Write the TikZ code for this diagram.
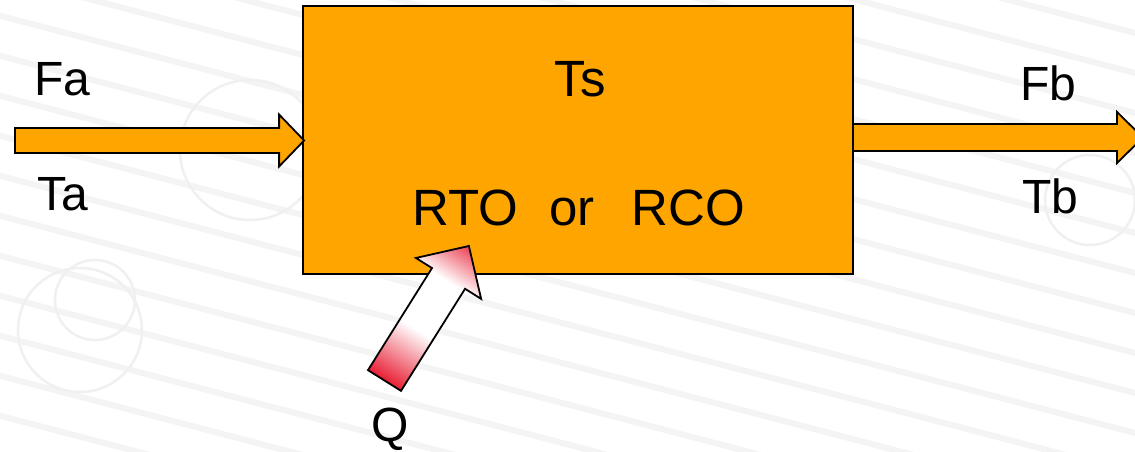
\documentclass[tikz,border=0pt]{standalone}
\usepackage{fontspec}
\setmainfont{Liberation Sans}
\usetikzlibrary{calc}
\definecolor{boxorange}{RGB}{255,165,0}
\definecolor{qred}{RGB}{232,30,52}
\definecolor{stripe}{RGB}{244,244,244}
\definecolor{swirl}{RGB}{240,240,240}
\pgfdeclarehorizontalshading{qshade}{100bp}{color(0bp)=(qred); color(25bp)=(qred); color(44bp)=(white); color(62bp)=(white); color(75bp)=(qred!85!white); color(100bp)=(qred!85!white)}
\begin{document}
\begin{tikzpicture}[x=1pt,y=-1pt,
  lbl/.style={font=\fontsize{48}{56}\selectfont, inner sep=0pt, text=black},
  biglbl/.style={font=\fontsize{51}{60}\selectfont, inner sep=0pt, text=black},
  flowarrow/.style={fill=boxorange, draw=black, line width=1.8pt, line join=miter},
  procbox/.style={fill=boxorange, draw=black, line width=1.8pt, minimum width=550pt, minimum height=268pt, inner sep=0pt},
  bgstripe/.style={draw=stripe, line width=6pt},
  bgswirl/.style={draw=swirl, line width=2.5pt}]
\useasboundingbox (0,0) rectangle (1135,451);
\fill[white] (0,0) rectangle (1135,451);
% faint background texture
\foreach \i in {-14,...,14} \draw[bgstripe] (-60,\i*40) -- (1200,\i*40+330);
\draw[bgswirl] (80,330) circle (62);
\draw[bgswirl] (95,300) circle (40);
\draw[bgswirl] (250,150) circle (70);
\draw[bgswirl] (1090,200) circle (45);
% process box
\node[procbox] (box) at (578,140) {};
\node[biglbl, anchor=base] (ts) at (580,96) {Ts};
\node[biglbl, anchor=base] (rto) at (579,225) {RTO\hspace{31pt}or\hspace{37pt}RCO};
% inlet arrow
\coordinate (ltail) at (15,140.5);
\coordinate (ltip) at ($(box.west)+(2,0.5)$);
\draw[flowarrow] ($(ltail)+(0,-12.5)$) -- ($(ltip)+(-25,-12.5)$) -- ($(ltip)+(-25,-26)$) -- (ltip)
  -- ($(ltip)+(-25,26)$) -- ($(ltip)+(-25,12.5)$) -- ($(ltail)+(0,12.5)$) -- cycle;
% outlet arrow
\coordinate (rtail) at ($(box.east)+(-1,-2.5)$);
\coordinate (rtip) at (1143,137.5);
\draw[flowarrow] ($(rtail)+(0,-13.5)$) -- ($(rtip)+(-26,-13.5)$) -- ($(rtip)+(-26,-25.5)$) -- (rtip)
  -- ($(rtip)+(-26,25.5)$) -- ($(rtip)+(-26,13.5)$) -- ($(rtail)+(0,13.5)$) -- cycle;
% labels
\node[lbl, anchor=base west] (fa) at (34,95) {Fa};
\node[lbl, anchor=base west] (ta) at (37,210) {Ta};
\node[lbl, anchor=base west] (fb) at (1020,100) {Fb};
\node[lbl, anchor=base west] (tb) at (1022,213) {Tb};
\node[lbl, anchor=base] (q) at (390,441) {Q};
% heat input arrow
\coordinate (qtail) at (384.5,380.5);
\begin{scope}[transform canvas={shift={(qtail)}, rotate=57.9}]
  \draw[shading=qshade, draw=black, line width=1.8pt, line join=miter]
    (0,-19.5) -- (120.5,-19.5) -- (120.5,-38.5) -- (158.8,0) -- (120.5,38.5) -- (120.5,19.5) -- (0,19.5) -- cycle;
\end{scope}
\end{tikzpicture}
\end{document}
